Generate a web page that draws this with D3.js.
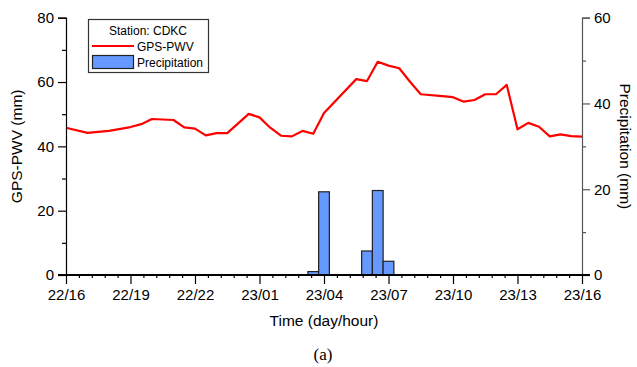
<!DOCTYPE html>
<html>
<head>
<meta charset="utf-8">
<script src="https://cdn.jsdelivr.net/npm/d3@7"></script>
<style>
  body { margin: 0; background: #fff; }
  text { font-family: "Liberation Sans", Arial, sans-serif; fill: #000; }
</style>
</head>
<body>
<svg id="chart" width="637" height="367"></svg>
<script>
// GPS-PWV vs precipitation, station CDKC

// hours after 22/16
var pwvHours = [0, 1, 2, 3, 3.5, 4, 5, 5.5, 6, 6.5, 7, 7.5, 8.5, 9, 9.5, 10, 10.5, 11, 11.5, 12,
                13.5, 14, 14.5, 15, 15.5, 16, 16.5, 17.5, 18, 18.5, 19, 19.5, 20, 20.5, 21, 21.5,
                22, 22.5, 23, 23.5, 24];
var pwvValues = [45.8, 44.2, 44.8, 46.0, 46.9, 48.5, 48.2, 45.9, 45.5, 43.4, 44.1, 44.1, 50.1, 49.0,
                 45.8, 43.3, 43.1, 44.8, 43.9, 50.4, 60.9, 60.3, 66.3, 65.1, 64.3, 60.1, 56.2, 55.6,
                 55.3, 53.9, 54.4, 56.2, 56.2, 59.1, 45.3, 47.3, 46.1, 43.1, 43.7, 43.2, 43.0];

var rainHours = [11.5, 12, 14, 14.5, 15];
var rainValues = [0.8, 19.4, 5.6, 19.7, 3.2];

var xTickLabels = ["22/16", "22/19", "22/22", "23/01", "23/04", "23/07", "23/10", "23/13", "23/16"];
var leftTicks = [0, 20, 40, 60, 80];
var rightTicks = [0, 20, 40, 60];

var plotLeft = 66, plotRight = 582, plotTop = 17.7, plotBottom = 275
  , barWidth = 0.5   // hours
  ;

var svg = d3.select("#chart");

var x = d3.scaleLinear().domain([0, 24]).range([plotLeft, plotRight]);
var yL = d3.scaleLinear().domain([0, 80]).range([plotBottom, plotTop]);
var yR = d3.scaleLinear().domain([0, 60]).range([plotBottom, plotTop]);

// bars
svg.append("g").selectAll("rect")
   .data(rainHours)
   .enter().append("rect")
   .attr("x", function (d) { return x(d - barWidth / 2); })
   .attr("width", function () { return x(barWidth) - x(0); })
   .attr("y", function (d, i) { return yR(rainValues[i]); })
   .attr("height", function (d, i) { return plotBottom - yR(rainValues[i]); })
   .attr("fill", "#6699ff")
   .attr("stroke", "#222")
   .attr("stroke-width", 1.2);

// pwv line
var line = d3.line()
             .x(function (d) { return x(d); })
             .y(function (d, i) { return yL(pwvValues[i]); });
svg.append("path")
   .datum(pwvHours)
   .attr("d", line)
   .attr("fill", "none")
   .attr("stroke", "#ff0000")
   .attr("stroke-width", 2.2)
   .attr("stroke-linejoin", "round");

// left axis
var gL = svg.append("g").attr("transform", "translate(" + plotLeft + ",0)");
gL.call(d3.axisLeft(yL).tickValues(leftTicks).tickSize(8).tickPadding(4));
gL.append("g").call(d3.axisLeft(yL).tickValues([10, 30, 50, 70]).tickSize(4).tickFormat(""))
  .select(".domain").remove();

// right axis
var gR = svg.append("g").attr("transform", "translate(" + plotRight + ",0)");
gR.call(d3.axisRight(yR).tickValues(rightTicks).tickSize(8).tickPadding(4));
gR.append("g").call(d3.axisRight(yR).tickValues([10, 30, 50]).tickSize(4).tickFormat(""))
  .select(".domain").remove();
gR.selectAll("line, path").attr("stroke", "#555");

// bottom axis
var gB = svg.append("g").attr("transform", "translate(0," + plotBottom + ")");
gB.call(d3.axisBottom(x).tickValues(d3.range(0, 25, 3)).tickSize(9).tickPadding(5)
          .tickFormat(function (d, i) { return xTickLabels[i]; }));
var minor = [];
for (var h = 0; h < 24; h += 3) {
  for (var k = 1; k < 5; k += 1) { minor.push(h + k * 0.6); }
}
gB.append("g").call(d3.axisBottom(x).tickValues(minor).tickSize(3).tickFormat(""))
  .select(".domain").remove();
gB.select(".domain").attr("d", "M" + (plotLeft - 8) + ",0H" + (plotRight + 8)).attr("stroke-width", 2);

svg.selectAll(".tick text").style("font-size", "15px").style("font-family", "Liberation Sans, Arial, sans-serif");
svg.selectAll(".tick line").attr("stroke-width", 1.2);
gL.select(".domain").attr("stroke-width", 1.2);
gR.select(".domain").attr("stroke-width", 1.2);

// axis titles
svg.append("text")
   .attr("transform", "translate(22," + ((plotTop + plotBottom) / 2) + ") rotate(-90)")
   .attr("text-anchor", "middle")
   .style("font-size", "15.5px")
   .text("GPS-PWV (mm)");
svg.append("text")
   .attr("transform", "translate(620," + ((plotTop + plotBottom) / 2) + ") rotate(90)")
   .attr("text-anchor", "middle")
   .style("font-size", "15.5px")
   .text("Precipitation (mm)");
svg.append("text")
   .attr("x", (plotLeft + plotRight) / 2).attr("y", 326)
   .attr("text-anchor", "middle")
   .style("font-size", "15.5px")
   .text("Time (day/hour)");
svg.append("text")
   .attr("x", 323).attr("y", 360)
   .attr("text-anchor", "middle")
   .style("font-size", "17px")
   .style("font-family", "Liberation Serif, Times New Roman, serif")
   .text("(a)");

// legend
var lg = svg.append("g");
lg.append("rect").attr("x", 88.5).attr("y", 19.5).attr("width", 120).attr("height", 53)
  .attr("fill", "#fff").attr("stroke", "#333").attr("stroke-width", 1.2);
lg.append("text").attr("x", 148).attr("y", 35).attr("text-anchor", "middle")
  .style("font-size", "12px").text("Station: CDKC");
lg.append("line").attr("x1", 92).attr("x2", 134).attr("y1", 46).attr("y2", 46)
  .attr("stroke", "#ff0000").attr("stroke-width", 2.2);
lg.append("text").attr("x", 137).attr("y", 50.5).style("font-size", "12px").text("GPS-PWV");
lg.append("rect").attr("x", 92.5).attr("y", 55.5).attr("width", 41).attr("height", 13)
  .attr("fill", "#6699ff").attr("stroke", "#222").attr("stroke-width", 1.2);
lg.append("text").attr("x", 137).attr("y", 66.5).style("font-size", "12px").text("Precipitation");
</script>
</body>
</html>
